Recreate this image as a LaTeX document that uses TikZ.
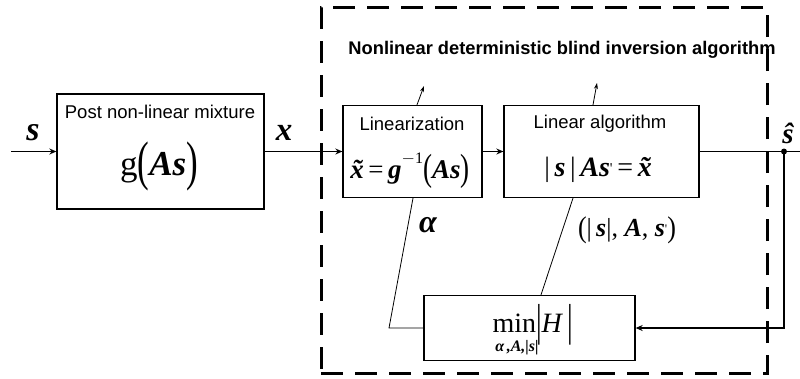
\documentclass[tikz,border=0pt]{standalone}
\usepackage{fontspec}
\usepackage{graphicx}
\setmainfont{Liberation Sans}
\newfontfamily\tnr{Liberation Serif}
\usetikzlibrary{arrows.meta}
\newcommand\bi[1]{{\tnr\bfseries\itshape #1}}
\newcommand\fs[1]{\fontsize{#1}{#1}\selectfont}
% tall delimiter: #1 vertical scale, #2 shift, #3 glyph
\newcommand\tallp[3]{\raisebox{#2}{\scalebox{1}[#1]{\tnr #3}}}
\tikzset{
  blk/.style={draw, line width=1.3pt, rectangle, inner sep=0pt},
  lbl/.style={inner sep=0pt, font=\fs{18.5}},
  conn/.style={line width=1.2pt},
  arr/.style={conn, -{Stealth[length=7pt,width=6pt]}},
  thin/.style={line width=0.8pt},
}
\begin{document}
\begin{tikzpicture}[x=1pt,y=-1pt]
\useasboundingbox (0,0) rectangle (800,378);
% dashed frame
\node[draw, line width=3pt, dash pattern=on 22pt off 12pt, inner sep=0pt,
  minimum width=446pt, minimum height=366pt] (frame) at (544,190) {};
\node[inner sep=0pt, font=\bfseries\fs{18.3}] (title) at (562,50) {Nonlinear deterministic blind inversion algorithm};
% boxes
\node[blk, minimum width=207pt, minimum height=115pt] (mix) at (160.5,151.5) {};
\node[blk, minimum width=139pt, minimum height=92pt] (lin) at (412.5,151.5) {};
\node[blk, minimum width=195pt, minimum height=92pt] (alg) at (601.5,151.5) {};
\node[blk, minimum width=211pt, minimum height=65pt] (minb) at (529.5,328) {};
% box texts
\node[lbl] (mixt) at (160,112) {Post non-linear mixture};
\node[inner sep=0pt, anchor=base] (mixf) at (159,175) {\tnr\fs{35}g\tallp{1.55}{-0.13em}{(}\bi{As}\tallp{1.55}{-0.13em}{)}};
\node[inner sep=0pt, anchor=base] (linf) at (410,178) {\tnr\fs{27}\bi{\~x}\,=\,\bi{g}\raisebox{0.55em}{\fs{16}\tnr $-$1}\tallp{1.4}{-0.09em}{(}\bi{As}\tallp{1.4}{-0.09em}{)}};
\node[lbl] (lint) at (412,124) {Linearization};
\node[lbl] (algt) at (600,124) {Linear algorithm};
\node[inner sep=0pt, anchor=base] (algf) at (598,176) {\tnr\fs{28}|\,\bi{s}\,|\,\bi{As}\raisebox{0.1em}{\fs{15}'}\,=\,\bi{\~x}};
\node[inner sep=0pt, anchor=base] (minf) at (533,332) {\tnr\fs{28}min\tallp{1.6}{-0.14em}{|}\textit{H}\,\tallp{1.6}{-0.14em}{|}};
\node[inner sep=0pt] (mins) at (517,348) {\bi{\fs{16}α\,,A,|s|}};
% labels
\node[inner sep=0pt] (ls) at (33,133) {\bi{\fs{34}s}};
\node[inner sep=0pt] (lx) at (284,133) {\bi{\fs{33}x}};
\node[inner sep=0pt] (lshat) at (788,133) {\bi{\fs{29}ŝ}};
\node[inner sep=0pt] (lalpha) at (428,225) {\bi{\fs{32}α}};
\node[inner sep=0pt, anchor=base] (lpar) at (627,236) {\tnr\fs{26}\tallp{1.15}{-0.04em}{(}|\,\bi{s}|, \bi{A}, \bi{s}\raisebox{0.1em}{\fs{13}'}\tallp{1.15}{-0.04em}{)}};
% coordinates
\coordinate (in) at (11,151.5);
\coordinate (dot) at (784,151.5);
\coordinate (outend) at (800,151.5);
\coordinate (fbR) at (784,328);
\coordinate (fbL) at (389,328);
\coordinate (up1) at (424,86);
\coordinate (up2) at (597,83);
% connectors
\draw[arr] (in) -- (mix.west);
\draw[arr] (mix.east) -- (lin.west);
\draw[arr] (lin.east) -- (alg.west);
\draw[conn] (alg.east) -- (outend);
\fill (dot) circle (3pt);
\draw[arr] (dot) -- (fbR) -- (minb.east);
\draw[thin] (minb.west) -- (fbL) -- (lin.south -| 413,0);
\draw[thin] (minb.north -| 541,0) -- (alg.south -| 573,0);
\draw[thin, -{Stealth[length=6pt,width=4pt]}] (lin.north -| 417,0) -- (up1);
\draw[thin, -{Stealth[length=6pt,width=4pt]}] (alg.north -| 593,0) -- (up2);
\end{tikzpicture}
\end{document}
